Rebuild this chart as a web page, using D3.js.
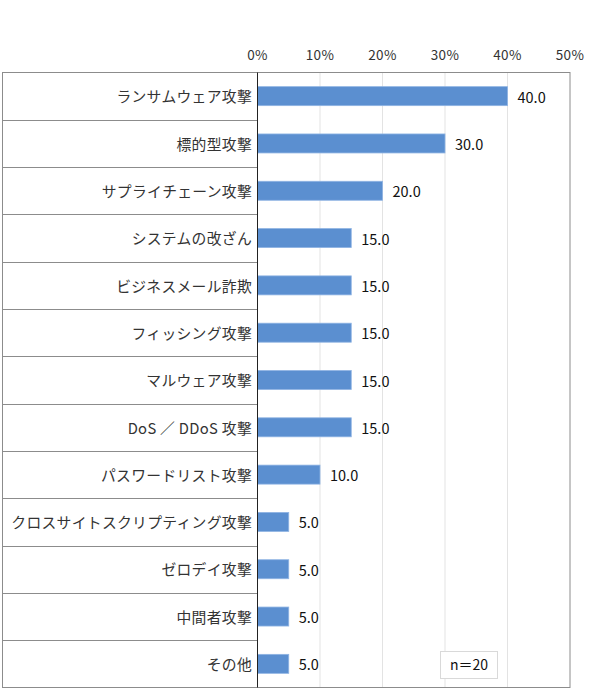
<!DOCTYPE html>
<html lang="ja">
<head>
<meta charset="UTF-8">
<title>攻撃の種類</title>
<style>
    body { margin: 0; background: #fff; }
    svg { display: block; font-family: "Noto Sans CJK JP", sans-serif; }
</style>
</head>
<body>
<div id="chart"></div>
<script src="https://cdnjs.cloudflare.com/ajax/libs/d3/7.8.5/d3.min.js"></script>
<script>
    const categories = [
        "ランサムウェア攻撃", "標的型攻撃", "サプライチェーン攻撃", "システムの改ざん",
        "ビジネスメール詐欺", "フィッシング攻撃", "マルウェア攻撃", "DoS ／ DDoS 攻撃",
        "パスワードリスト攻撃", "クロスサイトスクリプティング攻撃", "ゼロデイ攻撃",
        "中間者攻撃", "その他"
    ];
    const values = [40.0, 30.0, 20.0, 15.0, 15.0, 15.0, 15.0, 15.0, 10.0, 5.0, 5.0, 5.0, 5.0];
    const ticks = [0, 10, 20, 30, 40, 50];
    const sampleNote = "n＝20";

    const width = 590, height = 699;
    const frameLeft = 2.5, axisX = 257.5, plotRight = 570, plotTop = 72.5, plotBottom = 687.5;

    const svg = d3.select("#chart").append("svg")
        .attr("width", width)
        .attr("height", height);

    const x = d3.scaleLinear().domain([0, 50]).range([axisX, plotRight]);
    const y = d3.scaleBand().domain(categories).range([plotTop, plotBottom]);

    // gridlines
    svg.append("g")
        .selectAll("line")
        .data(ticks.slice(1, -1))
        .join("line")
        .attr("x1", d => x(d)).attr("x2", d => x(d))
        .attr("y1", plotTop).attr("y2", plotBottom)
        .attr("stroke", "#e3e3e3");

    // top tick labels
    svg.append("g")
        .selectAll("text")
        .data(ticks)
        .join("text")
        .attr("x", d => x(d))
        .attr("y", 55)
        .attr("dy", "0.35em")
        .attr("text-anchor", "middle")
        .style("font-size", "13.5px")
        .style("letter-spacing", "0.4px")
        .style("fill", "#333")
        .text(d => d + "%");

    // row separators in label column
    svg.append("g")
        .selectAll("line")
        .data(categories.slice(1))
        .join("line")
        .attr("x1", frameLeft).attr("x2", axisX)
        .attr("y1", d => Math.round(y(d)) + 0.5).attr("y2", d => Math.round(y(d)) + 0.5)
        .attr("stroke", "#8c8c8c");

    // frame
    svg.append("rect")
        .attr("x", frameLeft).attr("y", plotTop)
        .attr("width", plotRight - frameLeft).attr("height", plotBottom - plotTop)
        .attr("fill", "none")
        .attr("stroke", "#8c8c8c");

    // bars
    const barH = 19;
    svg.append("g")
        .selectAll("rect")
        .data(values)
        .join("rect")
        .attr("x", x(0))
        .attr("y", (d, i) => y(categories[i]) + y.bandwidth() / 2 - barH / 2)
        .attr("width", d => x(d) - x(0))
        .attr("height", barH)
        .attr("fill", "#5b8fd0")
        .attr("stroke", "#8fb4e3")
        .attr("stroke-width", 0.8);

    // axis line
    svg.append("line")
        .attr("x1", axisX).attr("x2", axisX)
        .attr("y1", plotTop).attr("y2", plotBottom)
        .attr("stroke", "#222");

    // category labels
    svg.append("g")
        .selectAll("text")
        .data(categories)
        .join("text")
        .attr("x", axisX - 5.5)
        .attr("y", d => y(d) + y.bandwidth() / 2)
        .attr("dy", "0.42em")
        .attr("text-anchor", "end")
        .style("font-size", "14.8px")
        .style("letter-spacing", "0.3px")
        .style("fill", "#333")
        .text(d => d);

    // value labels
    svg.append("g")
        .selectAll("text")
        .data(values)
        .join("text")
        .attr("x", d => x(d) + 10)
        .attr("y", (d, i) => y(categories[i]) + y.bandwidth() / 2)
        .attr("dy", "0.45em")
        .style("font-size", "14.5px")
        .style("fill", "#111")
        .text(d => d.toFixed(1));

    // n note
    const note = svg.append("g").attr("transform", "translate(440.5,651.5)");
    note.append("rect")
        .attr("width", 57).attr("height", 27)
        .attr("fill", "#fff")
        .attr("stroke", "#d9d9d9");
    note.append("text")
        .attr("x", 28.5).attr("y", 13.5)
        .attr("dy", "0.38em")
        .attr("text-anchor", "middle")
        .style("font-size", "14px")
        .style("fill", "#111")
        .text(sampleNote);
</script>
</body>
</html>
